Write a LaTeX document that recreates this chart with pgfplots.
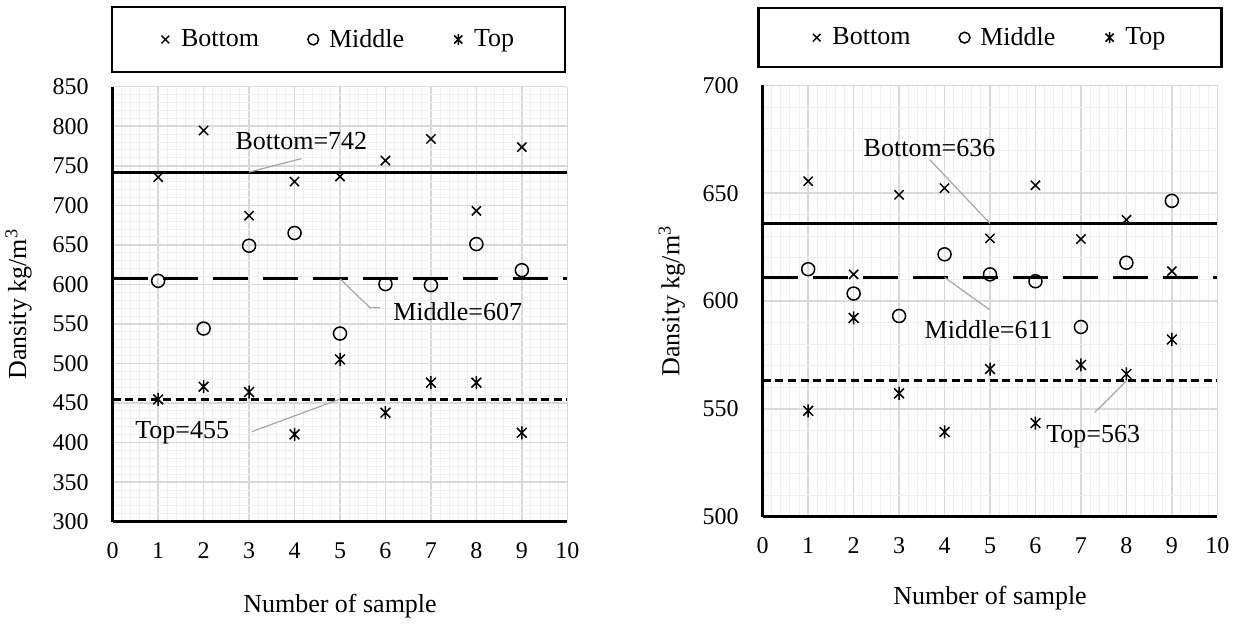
\documentclass[border=0pt]{standalone}
\usepackage{fontspec}
\setmainfont{Liberation Serif}
\usepackage{pgfplots}
\pgfplotsset{compat=1.18}

\definecolor{majg}{HTML}{D9D9D9}
\definecolor{ming}{HTML}{EFEFEF}
\definecolor{conn}{HTML}{A6A6A6}

% Excel style star: x with a vertical bar
\pgfdeclareplotmark{xstar}{%
  \pgfpathmoveto{\pgfqpoint{0pt}{-\pgfplotmarksize}}%
  \pgfpathlineto{\pgfqpoint{0pt}{\pgfplotmarksize}}%
  \pgfpathmoveto{\pgfqpoint{-.75\pgfplotmarksize}{-.75\pgfplotmarksize}}%
  \pgfpathlineto{\pgfqpoint{.75\pgfplotmarksize}{.75\pgfplotmarksize}}%
  \pgfpathmoveto{\pgfqpoint{-.75\pgfplotmarksize}{.75\pgfplotmarksize}}%
  \pgfpathlineto{\pgfqpoint{.75\pgfplotmarksize}{-.75\pgfplotmarksize}}%
  \pgfusepathqstroke}

\tikzset{ann/.style={font=\fontsize{13}{15}\selectfont}}

\pgfplotsset{
  dens/.style={
    scale only axis,
    xmin=0, xmax=10, xtick={0,...,10},
    axis x line*=bottom, axis y line*=left,
    axis line style={line width=1.4pt,-},
    grid=both,
    major grid style={draw=majg, line width=0.8pt},
    minor grid style={draw=ming, line width=0.5pt},
    minor x tick num=4, minor y tick num=4,
    major tick length=0pt, minor tick length=0pt,
    tick label style={font=\fontsize{12}{14}\selectfont},
    xticklabel shift=7pt, yticklabel shift=8.5pt,
    /pgf/number format/assume math mode=true,
    label style={font=\fontsize{13}{15}\selectfont},
    xlabel={Number of sample},
    ylabel={Dansity kg/m\textsuperscript{3}},
    legend columns=3,
    legend cell align=left,
    legend style={draw=black, line width=1.3pt, font=\fontsize{13}{15}\selectfont,
      inner xsep=23.5pt, inner ysep=9pt,
      /tikz/every even column/.append style={column sep=22pt}},
  },
  pts/.style={only marks, black, line width=0.75pt, mark size=3.25pt,
    legend image code/.code={\draw[##1, mark size=2.7pt, line width=0.75pt]
      plot coordinates {(0pt,0pt)}; \path (-2.7pt,0pt) (5.5pt,0pt);}},
}

\begin{document}
\begin{tikzpicture}
\useasboundingbox (0,0) rectangle (620pt,-312pt);

% left chart
\begin{axis}[dens, at={(56.35pt,-43.35pt)}, anchor=north west,
    width=227.3pt, height=217.5pt,
    ymin=300, ymax=850, ytick={300,350,...,850},
    xlabel style={at={(axis description cs:0.5,-0.193)}, anchor=center},
    ylabel style={at={(axis description cs:-0.207,0.5)}, anchor=center},
    legend style={at={(0.497,1.1085)}, anchor=center}]
\addplot[forget plot, black, line width=1.6pt] coordinates {(0,742)(10,742)};
\addplot[forget plot, black, line width=1.6pt, dash pattern=on 17.5pt off 7.5pt] coordinates {(0,607)(10,607)};
\addplot[forget plot, black, line width=1.5pt, dash pattern=on 4pt off 2.3pt] coordinates {(0,455)(10,455)};
\addplot[pts, mark=x] coordinates {
  (1,735.6)(2,794.6)(3,686.9)(4,730)(5,736.4)(6,756.6)(7,784)(8,693)(9,773.6)};
\addplot[pts, mark=o] coordinates {
  (1,604.5)(2,544.2)(3,648.9)(4,665)(5,537.9)(6,600.4)(7,599.1)(8,651)(9,618)};
\addplot[pts, mark=xstar] coordinates {
  (1,454.6)(2,470.7)(3,463.9)(4,410.3)(5,505.3)(6,437.8)(7,475.8)(8,475.8)(9,412.4)};
\legend{Bottom, Middle, Top}
\draw[conn, line width=0.6pt] (axis cs:3,742) -- (axis cs:4.15,759);
\node[ann] at (axis cs:4.15,780.8) {Bottom=742};
\draw[conn, line width=0.6pt] (axis cs:5,607) -- (axis cs:5.66,570.6) -- (axis cs:5.88,570.6);
\node[ann] at (axis cs:7.59,565.9) {Middle=607};
\draw[conn, line width=0.6pt] (axis cs:3.06,413.8) -- (axis cs:5,455);
\node[ann] at (axis cs:1.53,412.5) {Top=455};
\end{axis}

% right chart
\begin{axis}[dens, at={(381.35pt,-42.75pt)}, anchor=north west,
    width=227.3pt, height=215.6pt,
    ymin=500, ymax=700, ytick={500,550,...,700},
    xlabel style={at={(axis description cs:0.5,-0.188)}, anchor=center},
    ylabel style={at={(axis description cs:-0.2,0.5)}, anchor=center},
    legend style={at={(0.5,1.111)}, anchor=center, inner xsep=26pt, inner ysep=7.5pt}]
\addplot[forget plot, black, line width=1.6pt] coordinates {(0,636)(10,636)};
\addplot[forget plot, black, line width=1.6pt, dash pattern=on 17.5pt off 7.5pt] coordinates {(0,611)(10,611)};
\addplot[forget plot, black, line width=1.5pt, dash pattern=on 4pt off 2.3pt] coordinates {(0,563)(10,563)};
\addplot[pts, mark=x] coordinates {
  (1,655.6)(2,612.4)(3,649.3)(4,652.4)(5,629.1)(6,653.7)(7,628.8)(8,637.7)(9,613.9)};
\addplot[pts, mark=o] coordinates {
  (1,614.8)(2,603.5)(3,593.1)(4,621.7)(5,612.4)(6,609.2)(7,588)(8,617.8)(9,646.5)};
\addplot[pts, mark=xstar] coordinates {
  (1,549.1)(2,592.2)(3,557.2)(4,539.3)(5,568.5)(6,543.4)(7,570.4)(8,566.2)(9,582.2)};
\legend{Bottom, Middle, Top}
\draw[conn, line width=0.6pt] (axis cs:3.67,665.7) -- (axis cs:5,636);
\node[ann] at (axis cs:3.67,671.2) {Bottom=636};
\draw[conn, line width=0.6pt] (axis cs:4,611) -- (axis cs:4.99,596);
\node[ann] at (axis cs:4.97,586.8) {Middle=611};
\draw[conn, line width=0.6pt] (axis cs:7.30,548.3) -- (axis cs:8,563);
\node[ann] at (axis cs:7.27,537.3) {Top=563};
\end{axis}
\end{tikzpicture}
\end{document}
